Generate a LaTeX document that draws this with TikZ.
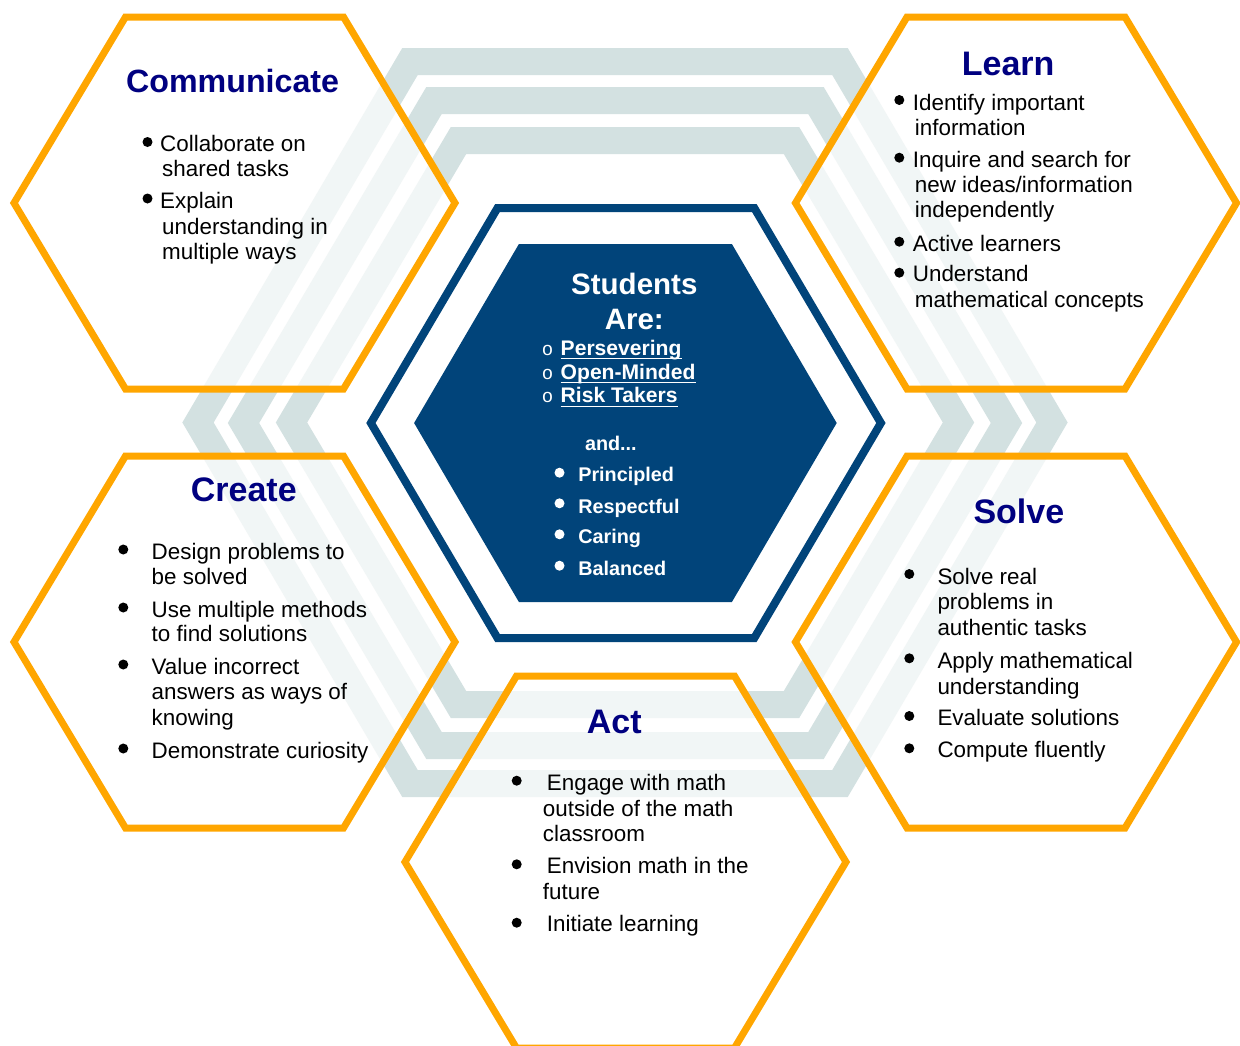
\documentclass[tikz,border=0pt]{standalone}
\usepackage{fontspec}
\setmainfont{Liberation Sans}
\newfontfamily\monofnt{Liberation Mono}
\definecolor{hexorange}{RGB}{255,166,0}
\definecolor{bandgrey}{RGB}{211,225,225}
\definecolor{titlenavy}{RGB}{0,0,128}
\definecolor{deepblue}{RGB}{1,68,122}
\begin{document}
\begin{tikzpicture}[x=1pt,y=-1pt,
  hexpath/.style n args={5}{insert path={(#1-#3,#2) -- (#1-#4,#2-#5) -- (#1+#4,#2-#5) -- (#1+#3,#2) -- (#1+#4,#2+#5) -- (#1-#4,#2+#5) -- cycle}},
  band/.style={draw=bandgrey, line width=27pt, line join=miter},
  ohex/.style={draw=hexorange, line width=7pt, fill=white, fill opacity=0.7, line join=miter},
  cline/.style={draw=deepblue, line width=8pt, line join=miter},
  cfill/.style={fill=deepblue},
  body/.style={anchor=base west, inner sep=0pt, font=\fontsize{22.4}{26}\selectfont, text=black},
  ttl/.style={anchor=base west, inner sep=0pt, font=\fontsize{34}{40}\selectfont\bfseries, text=titlenavy},
  ttlc/.style={anchor=base west, inner sep=0pt, font=\fontsize{32.2}{38}\selectfont\bfseries, text=titlenavy},
  chead/.style={anchor=base, inner sep=0pt, font=\fontsize{29.5}{34}\selectfont\bfseries, text=white},
  cul/.style={anchor=base west, inner sep=0pt, font=\fontsize{21.1}{25}\selectfont\bfseries, text=white},
  cring/.style={anchor=base, inner sep=0pt, font=\fontsize{19}{22}\selectfont\monofnt, text=white},
  citem/.style={anchor=base west, inner sep=0pt, font=\fontsize{19.8}{24}\selectfont\bfseries, text=white},
  uline/.style={draw=white, line width=1.5pt},
  bdot/.style={fill=black},
  wdot/.style={fill=white},
]
\useasboundingbox (0,0) rectangle (1240,1045);
\fill[white] (0,0) rectangle (1240,1045);

% grey background bands
\draw[band, hexpath={625}{422.5}{427}{215}{361}];
\draw[band, hexpath={625}{423}{381.5}{191}{322.5}];
\draw[band, hexpath={625}{422.5}{333.5}{166.5}{282}];

% orange hexagons
\draw[ohex, hexpath={234.5}{203}{220.5}{109}{186}];
\draw[ohex, hexpath={1016}{203}{220.5}{109}{186}];
\draw[ohex, hexpath={234.5}{642}{220.5}{109}{186}];
\draw[ohex, hexpath={1016}{642}{220.5}{109}{186}];
\draw[ohex, hexpath={625.5}{862}{220.5}{109}{186}];

% central hexagon
\draw[cline, hexpath={625.9}{423}{255}{128.4}{215}];
\fill[cfill, hexpath={625.4}{423}{211.3}{106.5}{179}];

% Communicate
\node[ttlc] (comT) at (126,92.7) {Communicate};
\fill[bdot] (147.5,142) circle (5);
\node[body] (com1a) at (160,151) {Collaborate on};
\node[body] (com1b) at (162,176) {shared tasks};
\fill[bdot] (147.5,198.5) circle (5);
\node[body] (com2a) at (160,208) {Explain};
\node[body] (com2b) at (162,234) {understanding in};
\node[body] (com2c) at (162,259.5) {multiple ways};

% Learn
\node[ttl] (lrnT) at (961.7,75) {Learn};
\fill[bdot] (899.3,100) circle (5);
\node[body] (lrn1a) at (912.7,110) {Identify important};
\node[body] (lrn1b) at (914.7,135) {information};
\fill[bdot] (899.3,157.7) circle (5);
\node[body] (lrn2a) at (912.7,167.7) {Inquire and search for};
\node[body] (lrn2b) at (914.7,192) {new ideas/information};
\node[body] (lrn2c) at (914.7,217) {independently};
\fill[bdot] (899.3,241.7) circle (5);
\node[body] (lrn3a) at (912.7,251) {Active learners};
\fill[bdot] (899.3,272.7) circle (5);
\node[body] (lrn4a) at (912.7,281.5) {Understand};
\node[body] (lrn4b) at (914.7,307.5) {mathematical concepts};

% Create
\node[ttl] (crtT) at (190.7,501) {Create};
\fill[bdot] (123.3,549.5) circle (5);
\node[body] (crt1a) at (151.5,559) {Design problems to};
\node[body] (crt1b) at (151.5,584.3) {be solved};
\fill[bdot] (123.3,607.5) circle (5);
\node[body] (crt2a) at (151.5,617.3) {Use multiple methods};
\node[body] (crt2b) at (151.5,641.7) {to find solutions};
\fill[bdot] (123.3,664.5) circle (5);
\node[body] (crt3a) at (151.5,674) {Value incorrect};
\node[body] (crt3b) at (151.5,699.3) {answers as ways of};
\node[body] (crt3c) at (151.5,725) {knowing};
\fill[bdot] (123.3,748.5) circle (5);
\node[body] (crt4a) at (151.5,758.3) {Demonstrate curiosity};

% Solve
\node[ttl] (slvT) at (973.3,523.3) {Solve};
\fill[bdot] (909.3,574) circle (5);
\node[body] (slv1a) at (937.3,584) {Solve real};
\node[body] (slv1b) at (937.3,609.3) {problems in};
\node[body] (slv1c) at (937.3,635.7) {authentic tasks};
\fill[bdot] (909.3,658.3) circle (5);
\node[body] (slv2a) at (937.3,668.3) {Apply mathematical};
\node[body] (slv2b) at (937.3,694) {understanding};
\fill[bdot] (909.3,716) circle (5);
\node[body] (slv3a) at (937.3,725) {Evaluate solutions};
\fill[bdot] (909.3,748.3) circle (5);
\node[body] (slv4a) at (937.3,757.7) {Compute fluently};

% Act
\node[ttl] (actT) at (586.7,733.3) {Act};
\fill[bdot] (516.7,780.7) circle (5);
\node[body] (act1a) at (546.7,790) {Engage with math};
\node[body] (act1b) at (542.7,816) {outside of the math};
\node[body] (act1c) at (542.7,841.7) {classroom};
\fill[bdot] (516.7,864.3) circle (5);
\node[body] (act2a) at (546.7,873.3) {Envision math in the};
\node[body] (act2b) at (542.7,899) {future};
\fill[bdot] (516.7,922.7) circle (5);
\node[body] (act3a) at (546.7,931.7) {Initiate learning};

% Centre
\node[chead] (stuA) at (634.3,294) {Students};
\node[chead] (stuB) at (634.3,329) {Are:};
\node[cring] (r1) at (547.6,355) {o};
\node[cul] (per) at (560.5,355) {Persevering};
\node[cring] (r2) at (547.6,379.3) {o};
\node[cul] (opm) at (560.5,379.3) {Open-Minded};
\node[cring] (r3) at (547.6,402.7) {o};
\node[cul] (rsk) at (560.5,402.7) {Risk Takers};
\draw[uline] ([yshift=-3.3pt]per.base west) -- ([yshift=-3.3pt]per.base east);
\draw[uline] ([yshift=-3.3pt]opm.base west) -- ([yshift=-3.3pt]opm.base east);
\draw[uline] ([yshift=-3.8pt]rsk.base west) -- ([yshift=-3.8pt]rsk.base east);
\node[citem] (andd) at (584.8,450.7) {and...};
\fill[wdot] (559.5,472.7) circle (5);
\node[citem] (prn) at (578.1,481.7) {Principled};
\fill[wdot] (559.5,503.3) circle (5);
\node[citem] (rsp) at (578.1,513.3) {Respectful};
\fill[wdot] (559.5,534.3) circle (5);
\node[citem] (car) at (578.1,543.3) {Caring};
\fill[wdot] (559.5,565.7) circle (5);
\node[citem] (bal) at (578.1,575) {Balanced};
\end{tikzpicture}
\end{document}
